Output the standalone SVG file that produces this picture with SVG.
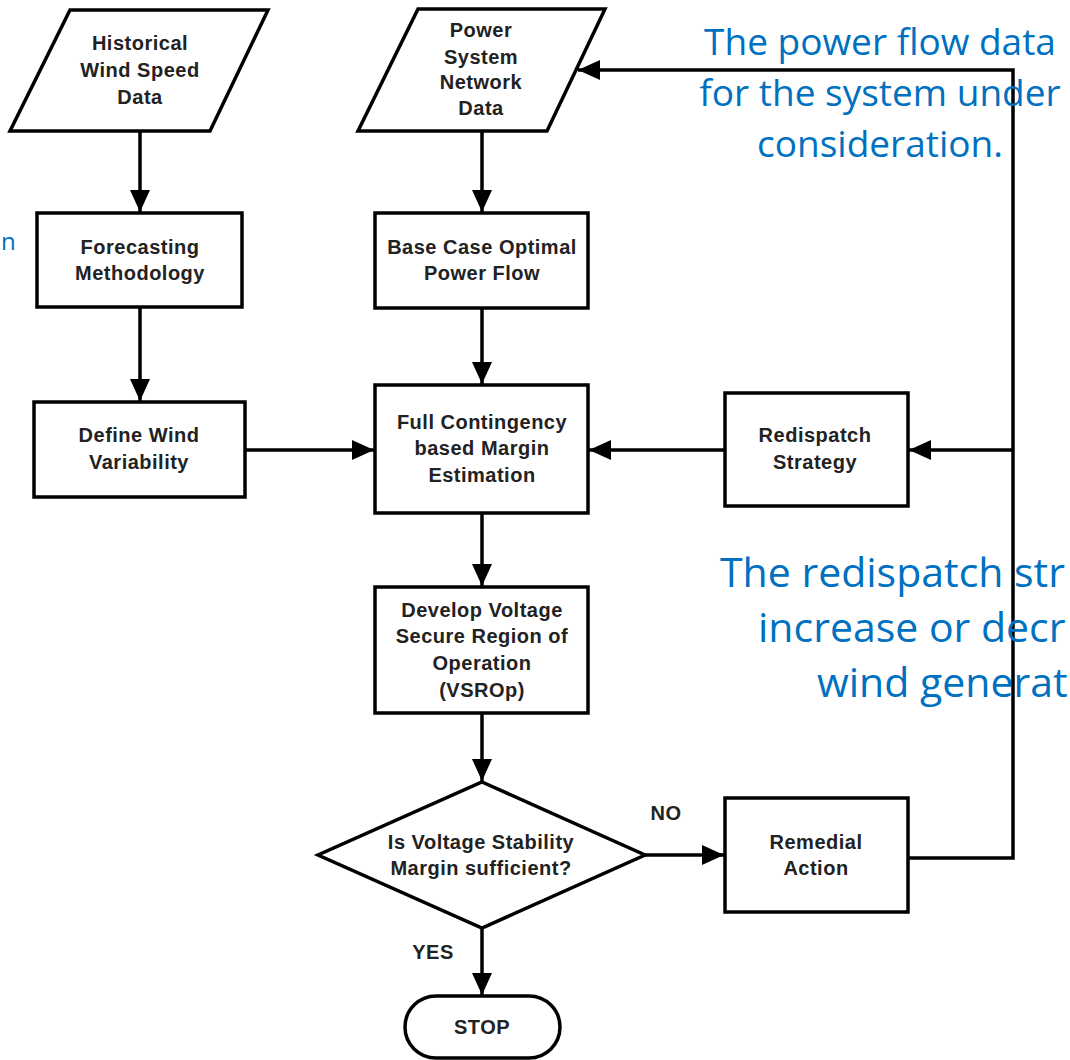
<svg xmlns="http://www.w3.org/2000/svg" width="1070" height="1060" viewBox="0 0 1070 1060">
<style>
.shape{fill:#fff;stroke:#000;stroke-width:3.5;stroke-linejoin:miter}
.lbl{font-family:"Liberation Sans",Arial,sans-serif;font-weight:bold;font-size:20px;fill:#222;text-anchor:middle;letter-spacing:0.5px}
.conn{fill:none;stroke:#000;stroke-width:3.5}
.note{font-family:"Open Sans","Noto Sans",sans-serif;fill:#0070C0}
</style>
<defs>
<marker id="ah" markerUnits="userSpaceOnUse" markerWidth="22" markerHeight="20" refX="22" refY="10" orient="auto">
<path d="M0,0 L22,10 L0,20 Z" fill="#000"/>
</marker>
</defs>
<rect width="1070" height="1060" fill="#fff"/>

<g id="connectors">
<path class="conn" d="M140,131 V212" marker-end="url(#ah)"/>
<path class="conn" d="M140,307 V401" marker-end="url(#ah)"/>
<path class="conn" d="M482,131 V212" marker-end="url(#ah)"/>
<path class="conn" d="M482,308 V384" marker-end="url(#ah)"/>
<path class="conn" d="M245,450 H374" marker-end="url(#ah)"/>
<path class="conn" d="M725,450 H589" marker-end="url(#ah)"/>
<path class="conn" d="M482,513 V586" marker-end="url(#ah)"/>
<path class="conn" d="M482,713 V781" marker-end="url(#ah)"/>
<path class="conn" d="M645,855 H724" marker-end="url(#ah)"/>
<path class="conn" d="M482,928 V995" marker-end="url(#ah)"/>
<path class="conn" d="M908,858 H1013 V70 H578" marker-end="url(#ah)"/>
<path class="conn" d="M1013,450 H909" marker-end="url(#ah)"/>
</g>

<g id="historical">
<polygon class="shape" points="70,10 268,10 210,131 10,131"/>
<text class="lbl" x="140" y="50">Historical</text>
<text class="lbl" x="140" y="77">Wind Speed</text>
<text class="lbl" x="140" y="104">Data</text>
</g>

<g id="power-data">
<polygon class="shape" points="418,9 605,9 547,131 358,131"/>
<text class="lbl" x="481" y="37">Power</text>
<text class="lbl" x="481" y="64">System</text>
<text class="lbl" x="481" y="89">Network</text>
<text class="lbl" x="481" y="115">Data</text>
</g>

<g id="forecasting">
<rect class="shape" x="37" y="213" width="205" height="94"/>
<text class="lbl" x="140" y="254">Forecasting</text>
<text class="lbl" x="140" y="280">Methodology</text>
</g>

<g id="base-case">
<rect class="shape" x="375" y="213" width="213" height="95"/>
<text class="lbl" x="482" y="254">Base Case Optimal</text>
<text class="lbl" x="482" y="280">Power Flow</text>
</g>

<g id="define-wind">
<rect class="shape" x="34" y="402" width="211" height="95"/>
<text class="lbl" x="139" y="442">Define Wind</text>
<text class="lbl" x="139" y="469">Variability</text>
</g>

<g id="full-contingency">
<rect class="shape" x="375" y="385" width="213" height="128"/>
<text class="lbl" x="482" y="429">Full Contingency</text>
<text class="lbl" x="482" y="455">based Margin</text>
<text class="lbl" x="482" y="482">Estimation</text>
</g>

<g id="redispatch">
<rect class="shape" x="725" y="393" width="183" height="113"/>
<text class="lbl" x="815" y="442">Redispatch</text>
<text class="lbl" x="815" y="469">Strategy</text>
</g>

<g id="develop">
<rect class="shape" x="375" y="587" width="213" height="126"/>
<text class="lbl" x="482" y="617">Develop Voltage</text>
<text class="lbl" x="482" y="643">Secure Region of</text>
<text class="lbl" x="482" y="670">Operation</text>
<text class="lbl" x="482" y="697">(VSROp)</text>
</g>

<g id="decision">
<polygon class="shape" points="482,782 645,855 482,928 318,855"/>
<text class="lbl" x="481" y="849">Is Voltage Stability</text>
<text class="lbl" x="481" y="875">Margin sufficient?</text>
</g>

<g id="remedial">
<rect class="shape" x="725" y="798" width="183" height="114"/>
<text class="lbl" x="816" y="849">Remedial</text>
<text class="lbl" x="816" y="875">Action</text>
</g>

<g id="stop">
<rect class="shape" x="405" y="996" width="155" height="62" rx="31" ry="31"/>
<text class="lbl" x="482" y="1034">STOP</text>
</g>

<g id="edge-labels">
<text class="lbl" x="666" y="820">NO</text>
<text class="lbl" x="433" y="959">YES</text>
</g>

<g id="notes">
<text class="note" font-size="37" text-anchor="middle" x="880" y="55">The power flow data</text>
<text class="note" font-size="37" text-anchor="middle" x="880" y="106">for the system under</text>
<text class="note" font-size="37" text-anchor="middle" x="880" y="157">consideration.</text>
<text class="note" font-size="41" x="720" y="587">The redispatch str</text>
<text class="note" font-size="41" x="758" y="642">increase or decr</text>
<text class="note" font-size="41" x="817" y="697">wind generat</text>
<text class="note" font-size="24" x="1" y="250">n</text>
</g>
</svg>
